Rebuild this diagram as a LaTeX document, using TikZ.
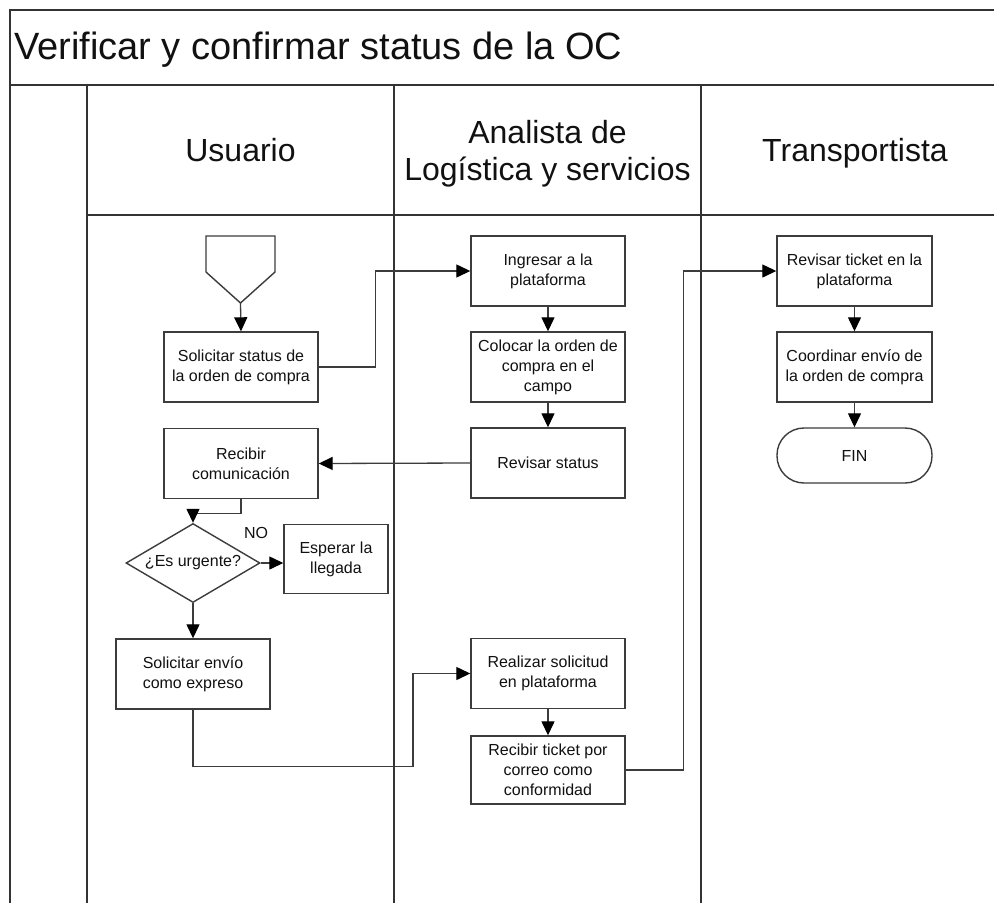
\documentclass[tikz,border=0pt]{standalone}
\usepackage{fontspec}
\setmainfont{Liberation Sans}
\usetikzlibrary{arrows.meta,shapes.geometric}
\definecolor{framegray}{HTML}{333333}
\definecolor{boxgray}{HTML}{3C3C3C}
\definecolor{txt}{HTML}{111111}
\begin{document}
\begin{tikzpicture}[x=1pt,y=-1pt,
  frameline/.style={draw=framegray, line width=2pt},
  laneline/.style={draw=framegray, line width=1.6pt},
  stepbox/.style={draw=boxgray, line width=1.4pt, rectangle, minimum width=154pt,
    minimum height=70pt, inner sep=2pt, align=center, text=txt,
    font=\fontsize{16}{20}\selectfont},
  decision/.style={draw=boxgray, line width=1.4pt, diamond, minimum width=134pt,
    minimum height=79pt, inner sep=0pt, text=txt, font=\fontsize{16}{20}\selectfont},
  terminal/.style={draw=boxgray, line width=1.4pt, rectangle, rounded corners=27pt,
    minimum width=155pt, minimum height=55pt, text=txt, font=\fontsize{16}{20}\selectfont},
  lanehead/.style={align=center, text=txt, font=\fontsize{32}{37}\selectfont, inner sep=0pt},
  flow/.style={draw=boxgray, line width=1.3pt,
    -{Triangle[length=14pt,width=13pt,fill=black,color=black]}},
  plain/.style={draw=boxgray, line width=1.4pt}
]
\useasboundingbox (0,0) rectangle (994,903);
\fill[white] (0,0) rectangle (994,903);

% pool frame and lanes
\draw[frameline] (994,10) -- (10,10) -- (10,903);
\draw[frameline] (10,85) -- (994,85);
\draw[laneline] (87,215) -- (994,215);
\draw[laneline] (87,85) -- (87,903);
\draw[laneline] (394,85) -- (394,903);
\draw[laneline] (701,85) -- (701,903);

% titles
\node[anchor=base west, inner sep=0pt, text=txt, font=\fontsize{38}{44}\selectfont]
  (title) at (14,59) {Verificar y confirmar status de la OC};
\node[lanehead, anchor=base] (h1) at (240.5,161) {Usuario};
\node[lanehead, anchor=base] (h2) at (547.5,180) {Analista de\\Logística y servicios};
\node[lanehead, anchor=base] (h3) at (855,161) {Transportista};

% off-page start connector
\draw[plain] (206,236) -- (275,236) -- (275,272) -- (240.5,303) -- (206,272) -- cycle;
\coordinate (start) at (240.5,303);

% Usuario lane
\node[stepbox] (sol) at (241,367) {Solicitar status de\\la orden de compra};
\node[stepbox] (rec) at (241,463.5) {Recibir\\comunicación};
\node[decision] (dia) at (193,563) {\makebox[0pt]{¿Es urgente?}};
\node[stepbox, minimum width=104pt, minimum height=69pt] (esp) at (336,559) {Esperar la\\llegada};
\node[inner sep=0pt, text=txt, font=\fontsize{16}{20}\selectfont] (no) at (256,533) {NO};
\node[stepbox] (env) at (193,674) {Solicitar envío\\como expreso};

% Analista lane
\node[stepbox] (ing) at (548,271) {Ingresar a la\\plataforma};
\node[stepbox] (col) at (548,367) {Colocar la orden de\\compra en el\\campo};
\node[stepbox] (rev) at (548,463) {Revisar status};
\node[stepbox] (real) at (548,673.5) {Realizar solicitud\\en plataforma};
\node[stepbox, minimum height=68pt] (tick) at (548,770) {Recibir ticket por\\correo como\\conformidad};

% Transportista lane
\node[stepbox, minimum width=155pt] (rtk) at (854.5,271) {Revisar ticket en la\\plataforma};
\node[stepbox, minimum width=155pt] (coo) at (854.5,367) {Coordinar envío de\\la orden de compra};
\node[terminal] (fin) at (854.5,455.5) {FIN};

% connectors
\draw[flow] (start) -- (sol.north);
\draw[flow] (sol.east) -- ++(57,0) |- (ing.west);
\draw[flow] (ing) -- (col);
\draw[flow] (col) -- (rev);
\draw[flow] (rev.west) -- (rec.east);
\draw[flow] (rec.south) -- ++(0,14) -| (dia.north);
\draw[flow] (dia.east) -- (dia.east -| esp.west);
\draw[flow] (dia.south) -- (env.north);
\draw[flow] (env.south) -- ++(0,57) -- ++(220,0) |- (real.west);
\draw[flow] (real) -- (tick);
\draw[flow] (tick.east) -- ++(58,0) |- (rtk.west);
\draw[flow] (rtk) -- (coo);
\draw[flow] (coo) -- (fin);
\end{tikzpicture}
\end{document}
